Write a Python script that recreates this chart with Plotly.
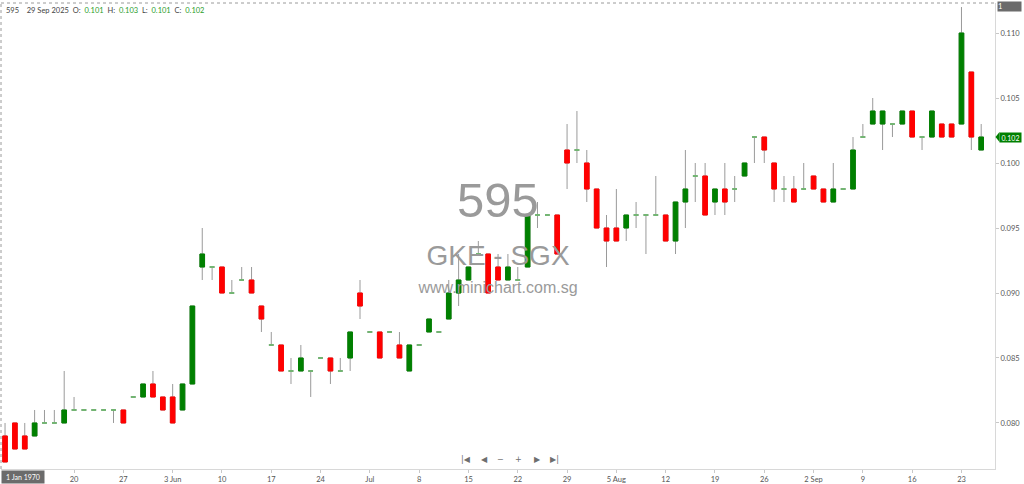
import pandas as pd
import plotly.graph_objects as go

# ================= data =================
SYMBOL = "595"
EXCHANGE = "GKE - SGX"
SITE = "www.minichart.com.sg"
HEADER_DATE = "29 Sep 2025"

# SGX trading days shown (Vesak Day holiday skipped)
DATES = pd.bdate_range("2025-05-08", "2025-09-25", freq="C", holidays=["2025-05-12"])

OPEN = [0.079, 0.080, 0.079, 0.079, 0.080, 0.080, 0.080, 0.081, 0.081, 0.081,
        0.081, 0.081, 0.081, 0.082, 0.082, 0.083, 0.082, 0.082, 0.081, 0.083,
        0.092, 0.092, 0.092, 0.090, 0.091, 0.091, 0.089, 0.086, 0.086, 0.084,
        0.084, 0.084, 0.085, 0.085, 0.084, 0.085, 0.090, 0.087, 0.087, 0.087,
        0.086, 0.084, 0.086, 0.087, 0.087, 0.088, 0.090, 0.091, 0.093, 0.093,
        0.092, 0.091, 0.091, 0.092, 0.096, 0.096, 0.096, 0.101, 0.101, 0.100,
        0.098, 0.095, 0.095, 0.095, 0.096, 0.096, 0.096, 0.096, 0.094, 0.097,
        0.099, 0.099, 0.097, 0.098, 0.098, 0.099, 0.102, 0.102, 0.100, 0.098,
        0.098, 0.098, 0.099, 0.098, 0.097, 0.098, 0.098, 0.102, 0.103, 0.103,
        0.103, 0.103, 0.104, 0.102, 0.102, 0.103, 0.103, 0.103, 0.107, 0.101]
HIGH = [0.080, 0.080, 0.080, 0.081, 0.081, 0.081, 0.084, 0.082, 0.081, 0.081,
        0.081, 0.081, 0.081, 0.082, 0.083, 0.084, 0.082, 0.083, 0.083, 0.089,
        0.095, 0.092, 0.092, 0.091, 0.092, 0.092, 0.089, 0.087, 0.086, 0.085,
        0.086, 0.084, 0.085, 0.085, 0.085, 0.087, 0.091, 0.087, 0.087, 0.087,
        0.087, 0.086, 0.086, 0.088, 0.087, 0.091, 0.093, 0.092, 0.094, 0.093,
        0.093, 0.093, 0.092, 0.096, 0.097, 0.096, 0.096, 0.103, 0.104, 0.101,
        0.098, 0.096, 0.098, 0.096, 0.097, 0.096, 0.099, 0.096, 0.097, 0.101,
        0.100, 0.100, 0.098, 0.100, 0.099, 0.100, 0.102, 0.102, 0.100, 0.099,
        0.099, 0.100, 0.099, 0.098, 0.100, 0.098, 0.102, 0.103, 0.105, 0.104,
        0.103, 0.104, 0.104, 0.102, 0.104, 0.103, 0.103, 0.112, 0.107, 0.103]
LOW = [0.077, 0.078, 0.078, 0.079, 0.080, 0.080, 0.080, 0.081, 0.081, 0.081,
       0.081, 0.080, 0.080, 0.082, 0.082, 0.082, 0.081, 0.080, 0.081, 0.083,
       0.091, 0.091, 0.090, 0.090, 0.091, 0.090, 0.087, 0.086, 0.084, 0.083,
       0.084, 0.082, 0.085, 0.083, 0.084, 0.084, 0.088, 0.087, 0.085, 0.087,
       0.085, 0.084, 0.086, 0.087, 0.087, 0.088, 0.089, 0.091, 0.093, 0.090,
       0.091, 0.091, 0.091, 0.092, 0.095, 0.096, 0.093, 0.098, 0.100, 0.097,
       0.095, 0.092, 0.094, 0.094, 0.095, 0.093, 0.096, 0.094, 0.093, 0.095,
       0.097, 0.096, 0.096, 0.096, 0.097, 0.099, 0.100, 0.100, 0.097, 0.097,
       0.097, 0.098, 0.098, 0.097, 0.097, 0.098, 0.098, 0.102, 0.103, 0.101,
       0.102, 0.103, 0.102, 0.101, 0.102, 0.102, 0.102, 0.103, 0.101, 0.101]
CLOSE = [0.077, 0.078, 0.078, 0.080, 0.080, 0.080, 0.081, 0.081, 0.081, 0.081,
         0.081, 0.081, 0.080, 0.082, 0.083, 0.082, 0.081, 0.080, 0.083, 0.089,
         0.093, 0.092, 0.090, 0.090, 0.091, 0.090, 0.088, 0.086, 0.084, 0.084,
         0.085, 0.084, 0.085, 0.084, 0.084, 0.087, 0.089, 0.087, 0.085, 0.087,
         0.085, 0.086, 0.086, 0.088, 0.087, 0.090, 0.091, 0.092, 0.093, 0.090,
         0.091, 0.092, 0.091, 0.096, 0.096, 0.096, 0.093, 0.100, 0.101, 0.098,
         0.095, 0.094, 0.094, 0.096, 0.096, 0.096, 0.096, 0.094, 0.097, 0.098,
         0.099, 0.096, 0.098, 0.097, 0.098, 0.100, 0.102, 0.101, 0.098, 0.098,
         0.097, 0.098, 0.098, 0.097, 0.098, 0.098, 0.101, 0.102, 0.104, 0.104,
         0.103, 0.104, 0.102, 0.102, 0.104, 0.102, 0.102, 0.110, 0.102, 0.102]

TICK_DATES = ["2025-05-20", "2025-05-27", "2025-06-03", "2025-06-10", "2025-06-17",
              "2025-06-24", "2025-07-01", "2025-07-08", "2025-07-15", "2025-07-22",
              "2025-07-29", "2025-08-05", "2025-08-12", "2025-08-19", "2025-08-26",
              "2025-09-02", "2025-09-09", "2025-09-16", "2025-09-23"]
TICK_TEXT = ["20", "27", "3 Jun", "10", "17", "24", "Jul", "8", "15", "22",
             "29", "5 Aug", "12", "19", "26", "2 Sep", "9", "16", "23"]
# ========================================

UP = "#008000"
DOWN = "#ff0000"
DOJI = "#6cb86c"
WICK = "#9a9a9a"
FONT = "Lato"

W, H = 1024, 484
M = dict(l=1, r=29, t=3, b=15)
PW, PH = W - M["l"] - M["r"], H - M["t"] - M["b"]

n = len(DATES)
idx = list(range(n))
labels = [d.strftime("%d %b %Y") for d in DATES]
date_pos = {d.strftime("%Y-%m-%d"): i for i, d in enumerate(DATES)}
tickvals = [date_pos[d] for d in TICK_DATES]

x_range = [-0.41, n + 0.4]
y_range = [0.07646, 0.11231]


def px_x(px):
    return (px - M["l"]) / PW


def px_y(py):
    return 1 - (py - M["t"]) / PH


fig = go.Figure()

# watermark, drawn first so the candles sit on top of it
xm = sum(x_range) / 2
yspan = y_range[1] - y_range[0]
for txt, size, frac in [(SYMBOL, 49, 0.432), (EXCHANGE, 28, 0.548), (SITE, 16, 0.6146)]:
    fig.add_trace(go.Scatter(x=[xm], y=[y_range[1] - frac * yspan], mode="text", text=[txt],
                             textposition="middle center", hoverinfo="skip", showlegend=False,
                             textfont=dict(family="Liberation Sans, Arial", size=size, color="#9a9a9a")))

# gray wicks (full range)
fig.add_trace(go.Candlestick(x=idx, open=OPEN, high=HIGH, low=LOW, close=CLOSE, text=labels,
                             increasing=dict(line=dict(color=WICK, width=1), fillcolor=WICK),
                             decreasing=dict(line=dict(color=WICK, width=1), fillcolor=WICK),
                             whiskerwidth=0, showlegend=False, hoverinfo="skip"))

# coloured bodies
groups = {UP: [], DOWN: [], DOJI: []}
for i in idx:
    if CLOSE[i] > OPEN[i]:
        groups[UP].append(i)
    elif CLOSE[i] < OPEN[i]:
        groups[DOWN].append(i)
    else:
        groups[DOJI].append(i)

for col, ids in groups.items():
    o = [OPEN[i] for i in ids]
    c = [CLOSE[i] for i in ids]
    fig.add_trace(go.Candlestick(
        x=ids, open=o, close=c,
        high=[max(a, b) for a, b in zip(o, c)], low=[min(a, b) for a, b in zip(o, c)],
        text=[labels[i] for i in ids], whiskerwidth=0, showlegend=False,
        increasing=dict(line=dict(color=col, width=1), fillcolor=col),
        decreasing=dict(line=dict(color=col, width=1), fillcolor=col)))

# header line: symbol, date and last OHLC
sp = "\u00a0"
g = "<span style='color:#2a9d2a'>%s</span>"
head = (f"{SYMBOL}{sp*4}{HEADER_DATE}{sp*2}O:{sp*2}" + g % f"{OPEN[-1]:.3f}" +
        f"{sp*2}H:{sp*2}" + g % f"{HIGH[-1]:.3f}" +
        f"{sp*2}L:{sp*2}" + g % f"{LOW[-1]:.3f}" +
        f"{sp*2}C:{sp*2}" + g % f"{CLOSE[-1]:.3f}")

ann = [
    dict(text=head, xref="paper", yref="paper", x=px_x(4), y=px_y(10.7), xanchor="left",
         yanchor="middle", showarrow=False, font=dict(family=FONT, size=7.5, color="#444")),
    # last price marker
    dict(text=f"{CLOSE[-1]:.3f}", xref="paper", yref="y", x=px_x(999), y=CLOSE[-1], xanchor="left",
         yanchor="middle", showarrow=False, bgcolor=UP, width=21, height=9, borderpad=0,
         font=dict(family=FONT, size=7, color="white")),
    # "1" box top right
    dict(text="1", xref="paper", yref="paper", x=px_x(997), y=px_y(6), xanchor="left",
         yanchor="middle", showarrow=False, bgcolor="#6b6b6b", width=23, height=9, borderpad=0,
         align="left", font=dict(family=FONT, size=7.5, color="white")),
    # crosshair date box
    dict(text="1 Jan 1970", xref="paper", yref="paper", x=0, y=px_y(476.5), xanchor="left",
         yanchor="middle", showarrow=False, bgcolor="#6b6b6b", width=42, height=12, borderpad=0,
         font=dict(family=FONT, size=7, color="white")),
]

# navigation buttons under the chart
for sym, px in [("|◀", 466), ("◀", 484), ("−", 501), ("+", 518), ("▶", 537), ("▶|", 554)]:
    ann.append(dict(text=sym, xref="paper", yref="paper", x=px_x(px), y=px_y(459),
                    xanchor="center", yanchor="middle", showarrow=False,
                    font=dict(family="DejaVu Sans", size=8, color="#6e6e6e")))

# arrow tip on the price marker
d = 5 / PH * yspan
xa, xb = px_x(995.5), px_x(999.5)
shapes = [
    dict(type="path", xref="paper", yref="y", line=dict(width=0), fillcolor=UP,
         path=f"M {xa},{CLOSE[-1]} L {xb},{CLOSE[-1] + d} L {xb},{CLOSE[-1] - d} Z"),
    dict(type="line", xref="paper", yref="paper", x0=0, x1=1, y0=1, y1=1,
         line=dict(color="#9a9a9a", width=1, dash="dot")),
    dict(type="line", xref="paper", yref="paper", x0=0, x1=0, y0=0, y1=1,
         line=dict(color="#9a9a9a", width=1, dash="dot")),
]

fig.update_layout(
    width=W, height=H, margin=M, paper_bgcolor="white", plot_bgcolor="white",
    showlegend=False, boxgap=0.33, hovermode="x",
    annotations=ann, shapes=shapes,
    xaxis=dict(range=x_range, tickvals=tickvals, ticktext=TICK_TEXT, showgrid=False,
               zeroline=False, showline=True, linecolor="#d8d8d8", ticks="outside", ticklen=3,
               tickcolor="#c8c8c8", tickfont=dict(family=FONT, size=7.5, color="#555"),
               rangeslider=dict(visible=False)),
    yaxis=dict(range=y_range, side="right", tick0=0.08, dtick=0.005, tickformat=".3f",
               showgrid=False, zeroline=False, showline=True, linecolor="#d8d8d8",
               ticks="outside", ticklen=3, tickcolor="#c8c8c8",
               tickfont=dict(family=FONT, size=7.5, color="#555")),
)

# page body has a default margin; drop it so the figure fills the window exactly
fig.write_html("out.html", config={"displayModeBar": False},
               post_script="document.body.style.margin='0';")
